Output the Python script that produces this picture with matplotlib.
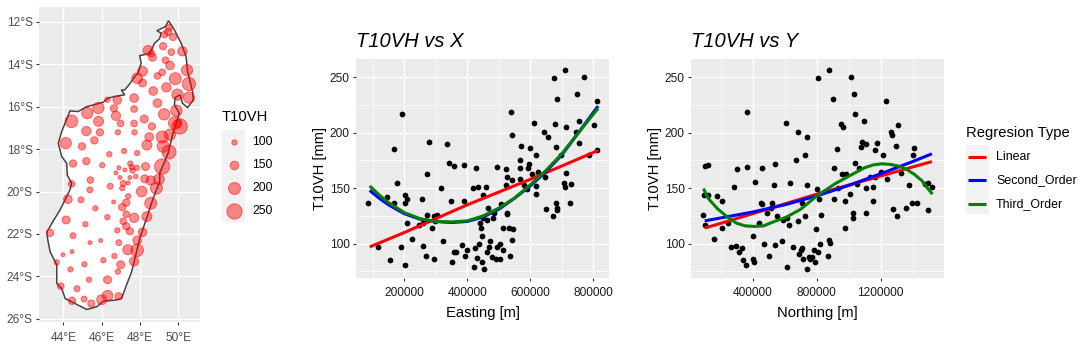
import numpy as np
import matplotlib
matplotlib.use('Agg')
import matplotlib.pyplot as plt
from matplotlib.patches import Rectangle

plt.rcParams['font.family'] = ['Liberation Sans', 'DejaVu Sans']

# coastline lon, lat
coast_lon = [49.50, 49.81, 50.16, 50.42, 50.50, 50.76, 50.80, 50.50, 50.24, 50.10, 49.84, 49.81, 50.07, 49.91,
             49.74, 49.48, 49.04, 49.04, 48.70, 48.35, 48.00, 47.74, 47.57, 47.30, 47.04, 46.70, 46.09, 45.74,
             45.22, 44.61, 44.09, 43.91, 43.65, 43.65, 43.30, 43.18, 43.13, 43.25, 43.39, 43.82, 44.08, 44.34,
             44.43, 44.20, 44.17, 43.91, 43.73, 43.91, 44.26, 44.34, 44.77, 45.21, 45.56, 46.08, 46.34, 46.68,
             47.21, 47.03, 47.21, 47.50, 47.67, 47.90, 48.07, 47.99, 48.16, 48.51, 48.65, 48.77, 49.03, 49.12,
             48.89, 49.34, 49.50]
coast_lat = [-11.95, -12.38, -13.00, -13.64, -14.34, -15.29, -15.68, -16.04, -15.84, -15.44, -15.57, -15.92, -16.31, -16.77,
             -17.24, -18.19, -19.13, -19.53, -20.31, -21.26, -22.20, -23.15, -23.78, -24.41, -25.04, -25.12, -25.17, -25.43,
             -25.56, -25.28, -25.04, -24.57, -24.33, -23.46, -22.83, -22.28, -21.89, -21.73, -21.50, -20.87, -20.40, -19.92,
             -19.61, -19.22, -18.67, -18.35, -17.72, -17.17, -16.39, -16.20, -16.23, -16.00, -15.92, -15.79, -15.60, -15.52,
             -15.44, -15.21, -15.21, -14.89, -14.66, -14.42, -13.95, -13.59, -13.56, -13.48, -13.24, -13.01, -12.80, -12.53,
             -12.42, -12.22, -11.95]

# stations on the map
st_lon = [49.53, 49.48, 49.30, 49.74, 49.22, 49.65, 50.23, 48.43, 48.61, 48.66, 49.34, 49.58, 50.47, 49.17, 48.92, 49.86,
          50.57, 48.14, 47.86, 48.14, 49.39, 48.70, 49.97, 50.57, 46.30, 46.82, 47.70, 48.92, 45.83, 45.25, 46.64, 47.70,
          49.91, 49.27, 46.75, 48.23, 44.42, 45.84, 46.99, 47.70, 48.63, 49.83, 50.09, 50.00, 45.20, 45.91, 46.85, 47.72,
          48.49, 49.17, 49.57, 45.62, 44.12, 44.97, 48.37, 49.22, 49.53, 46.40, 47.18, 47.86, 44.50, 45.20, 46.03, 46.90,
          47.22, 47.50, 47.57, 47.62, 47.84, 48.30, 49.17, 46.75, 44.43, 45.41, 45.39, 46.96, 47.48, 47.79, 48.26, 48.57,
          49.00, 48.87, 46.45, 47.13, 47.39, 47.08, 48.10, 44.23, 44.92, 46.63, 47.39, 47.29, 48.57, 47.08, 45.67, 47.29,
          47.70, 48.37, 46.30, 44.14, 47.13, 45.15, 47.29, 46.82, 47.48, 48.14, 43.30, 44.50, 47.86, 46.90, 45.95, 45.39,
          44.45, 43.98, 47.37, 47.86, 46.67, 46.09, 47.70, 45.10, 43.65, 47.00, 44.37, 46.85, 45.34, 46.31, 43.86, 44.71,
          46.89, 46.31, 46.00, 45.08, 44.45, 45.46]
st_lat = [-12.28, -12.47, -12.60, -12.71, -13.15, -13.43, -13.39, -13.35, -13.50, -13.67, -13.81, -14.06, -14.28, -14.38, -14.55, -14.68,
          -14.93, -14.33, -14.66, -14.88, -15.09, -15.26, -15.43, -15.57, -15.67, -15.69, -15.59, -15.83, -16.06, -16.30, -16.08, -16.11,
          -16.19, -16.36, -16.43, -16.58, -16.69, -16.69, -16.79, -16.79, -16.93, -16.77, -16.93, -16.80, -17.15, -17.21, -17.21, -17.21,
          -17.43, -17.43, -17.32, -17.59, -17.72, -17.87, -17.81, -17.87, -18.14, -18.24, -18.09, -18.19, -18.68, -18.57, -18.76, -18.88,
          -18.98, -18.68, -18.85, -19.01, -18.88, -18.82, -18.82, -19.12, -19.64, -19.46, -19.92, -19.34, -19.34, -19.29, -19.40, -19.48,
          -19.42, -19.84, -19.75, -19.62, -19.59, -19.84, -20.00, -20.36, -20.39, -20.49, -20.22, -20.52, -20.55, -20.74, -20.79, -21.07,
          -21.24, -21.18, -21.21, -21.34, -21.40, -21.54, -21.64, -21.83, -21.87, -21.92, -21.95, -22.08, -22.30, -22.41, -22.31, -22.41,
          -22.83, -22.98, -22.74, -22.77, -23.04, -23.24, -23.29, -23.43, -23.34, -23.45, -23.67, -23.78, -24.16, -24.16, -24.46, -24.58,
          -24.94, -24.91, -25.10, -25.07, -25.15, -25.28]
st_val = [120, 130, 120, 130, 130, 120, 160, 170, 120, 140, 120, 150, 190, 120, 120, 200,
          220, 170, 180, 140, 160, 150, 190, 190, 100, 150, 150, 150, 190, 190, 130, 120,
          190, 190, 160, 140, 210, 170, 120, 120, 130, 210, 250, 140, 160, 130, 100, 100,
          150, 200, 190, 130, 190, 130, 170, 200, 230, 100, 100, 100, 130, 130, 100, 80,
          80, 100, 100, 100, 100, 140, 250, 80, 120, 120, 110, 80, 80, 90, 140, 160,
          180, 200, 110, 110, 80, 100, 180, 150, 110, 80, 100, 130, 200, 130, 100, 120,
          160, 170, 100, 140, 120, 100, 130, 100, 130, 150, 130, 110, 150, 110, 80, 80,
          80, 80, 170, 210, 100, 100, 160, 100, 100, 140, 100, 100, 100, 140, 120, 110,
          130, 180, 170, 110, 130, 130]
size_breaks = [100, 150, 200, 250]

# T10VH vs easting
east_x = [168, 194, 279, 273, 335, 343, 359, 390, 428, 495, 524, 540, 543, 571, 600, 568, 568, 597, 594, 606, 625, 619, 613,
          644, 657, 679, 682, 698, 676, 711, 771, 686, 749, 813, 755, 746, 714, 803, 755, 787, 813, 714, 648, 527, 568, 543,
          86, 118, 146, 156, 168, 178, 190, 203, 203, 210, 203, 210, 225, 248, 260, 257, 260, 270, 273, 289, 295, 295, 305,
          298, 317, 324, 349, 352, 359, 365, 384, 390, 393, 400, 419, 435, 460, 451, 422, 425, 432, 438, 448, 454, 441, 444,
          448, 451, 463, 467, 463, 470, 473, 479, 482, 486, 492, 505, 495, 505, 514, 508, 514, 527, 527, 524, 533, 546, 543,
          536, 590, 619, 619, 651, 682, 686, 686, 673, 708, 711, 730, 727, 580, 587]
east_y = [185, 217, 192, 163, 190, 173, 170, 170.5, 168, 169, 167, 219, 198, 188, 186, 175, 168, 172, 168, 163, 165, 180, 209,
          201, 196, 208, 187, 180, 249, 257, 250, 230, 235, 229, 211, 201, 205, 207, 191, 180, 184, 164, 160.5, 160, 158, 157,
          137, 97, 142, 85.5, 137, 155, 97, 144, 137, 140, 81, 119, 104.5, 117, 119, 140, 98, 89, 126, 114, 86.5, 125, 126,
          120, 150.5, 102, 138, 83, 92, 92, 99, 138, 89, 94.5, 150.5, 151.5, 151.5, 144, 79, 96.5, 87, 100, 83, 77.5, 119, 114.5,
          107, 123.5, 121, 132.5, 92, 97, 102, 88, 123.5, 128, 86.5, 86.5, 97, 100, 94.5, 136, 114.5, 128, 127, 153, 114.5, 113.5, 103,
          89, 149, 145, 152, 131, 137, 132.5, 130, 125, 155, 151.5, 154, 137, 152.7, 150]
east_x = np.array(east_x) * 1000

# T10VH vs northing
north_x = [104, 123, 304, 367, 367, 460, 542, 417, 608, 673, 685, 742, 729, 810, 879, 1017, 904, 1035, 1235, 1042, 1098, 954, 967,
           1267, 1273, 1310, 929, 1079, 1085, 1110, 1179, 1167, 1217, 1298, 1410, 1404, 910, 1042, 1067, 960, 985, 1204, 1135, 1167, 1329, 1242,
           92, 98, 123, 104, 179, 210, 160, 210, 248, 267, 298, 335, 317, 342, 360, 285, 404, 404, 410, 442, 454, 460, 473,
           492, 504, 517, 523, 535, 542, 554, 585, 592, 617, 617, 629, 635, 654, 685, 692, 704, 710, 717, 710, 729, 742, 742,
           754, 760, 773, 785, 792, 810, 798, 804, 817, 823, 829, 873, 879, 885, 910, 935, 979, 979, 1010, 1029, 1029, 1054, 1110,
           1110, 1154, 1154, 1279, 1304, 1360, 1379, 1398, 1429, 1479, 1498, 1523, 1498]
north_y = [170, 170.5, 167, 169, 219, 168, 172, 156, 209, 175, 201, 196, 180, 249, 257, 250, 230, 235, 229, 217, 211, 208, 205,
           201, 198, 207, 185, 187, 192, 190, 191, 184, 180, 188, 186, 180, 168, 173, 168, 163, 163, 165, 160.5, 160, 164, 158,
           126, 144, 144, 117, 142.5, 138, 104.5, 114.5, 119, 97, 98, 96.5, 92, 85.5, 81, 151.5, 107, 86.5, 83, 119, 137, 136, 100,
           128, 89, 132.5, 137, 153, 99, 125, 102, 121, 79, 123.5, 117, 155, 97, 120, 91, 94, 96.5, 86.5, 137, 125, 152.5, 77.5,
           88, 86.5, 88, 94.5, 83, 92, 113.5, 149, 140, 100, 126, 89, 103, 101, 140, 150.5, 114.5, 138, 145, 128, 123.5, 154, 128,
           150.5, 138, 151.5, 131, 125, 132.5, 152.5, 137, 137, 154, 155, 151.5, 130]
north_x = np.array(north_x) * 1000

# fitted curves
e_lin_x = np.array([90, 200, 300, 400, 500, 600, 700, 815]) * 1000
e_lin_y = [97, 110, 122.5, 135, 146.5, 158, 170, 184]
e_fit_x = np.array([90, 120, 150, 200, 250, 300, 350, 400, 450, 500, 550, 600, 650, 700, 750, 815]) * 1000
e_sec_y = [148, 141, 135, 127, 122, 120, 119, 120, 124, 131, 141, 152, 165, 180, 199, 224]
e_thi_y = [152, 144, 137, 128, 122.5, 120, 119.5, 120.5, 125, 132, 141, 153, 166, 181, 199, 222]

n_lin_x = np.array([100, 400, 800, 1200, 1520]) * 1000
n_lin_y = [114, 127, 144.6, 161, 174]
n_sec_x = np.array([100, 400, 600, 800, 1000, 1200, 1400, 1520]) * 1000
n_sec_y = [120.5, 128.5, 135, 143, 152.5, 163, 174, 181]
n_thi_x = np.array([92, 123, 179, 242, 298, 354, 410, 467, 529, 612, 700, 800, 915, 1029, 1100, 1154, 1206, 1258, 1310, 1362, 1410,
                    1456, 1488, 1523]) * 1000
n_thi_y = [149.7, 140.6, 131.6, 124, 118.5, 116, 115.5, 116, 119.6, 124, 131, 143, 154, 163, 168.5, 171, 172, 171.5, 170, 167, 162.5,
           157, 151, 144.6]

reg_names = ['Linear', 'Second_Order', 'Third_Order']
reg_cols = ['red', 'blue', 'green']

W, H = 1079, 350
fig = plt.figure(figsize=(W / 100, H / 100), dpi=100)


def pix_axes(left, top, right, bottom):
    return fig.add_axes([left / W, 1 - bottom / H, (right - left) / W, (bottom - top) / H])


def bubble_s(v):
    # radius in px grows linear with value, same as the legend
    r = (8 + 0.1 * (np.asarray(v, dtype=float) - 100)) / 3
    return (2 * r * 0.72) ** 2


def style(ax):
    ax.set_facecolor('#EBEBEB')
    for s in ax.spines.values():
        s.set_visible(False)
    ax.set_axisbelow(True)
    ax.grid(True, which='major', color='white', lw=1.0)
    ax.tick_params(which='major', length=2.5, width=0.8, color='#333333', labelsize=8.6, pad=2)
    ax.tick_params(which='minor', length=0)


# map
ax0 = pix_axes(39, 7, 200, 322)
style(ax0)
ax0.fill(coast_lon, coast_lat, facecolor='white', edgecolor='#444444', lw=1.1, zorder=2)
ax0.scatter(st_lon, st_lat, s=bubble_s(st_val), facecolor=(1, 0, 0, 0.45), edgecolor=(1, 0, 0, 0.5), lw=0.7, zorder=3)
ax0.set_xlim(42.72, 51.15)
ax0.set_ylim(-26.15, -11.3)
ax0.set_xticks([44, 46, 48, 50])
ax0.set_xticklabels(['44°E', '46°E', '48°E', '50°E'])
ax0.set_yticks([-12, -14, -16, -18, -20, -22, -24, -26])
ax0.set_yticklabels(['12°S', '14°S', '16°S', '18°S', '20°S', '22°S', '24°S', '26°S'])
ax0.tick_params(labelcolor='#4D4D4D')
ax0.tick_params(axis='x', pad=5)


def scatter_panel(ax, x, y, curves, title, xlabel, xlim, xticks, xminor):
    style(ax)
    ax.set_xticks(xminor, minor=True)
    ax.set_yticks([75, 125, 175, 225], minor=True)
    ax.grid(True, which='minor', color='white', lw=0.5)
    ax.scatter(x, y, s=17, color='black', lw=0, zorder=3)
    for cx, cy, c in curves:
        ax.plot(cx, cy, color=c, lw=2.2, zorder=4, solid_capstyle='butt')
    ax.set_xlim(*xlim)
    ax.set_ylim(69, 266.5)
    ax.set_xticks(xticks)
    ax.set_xticklabels([str(t) for t in xticks])
    ax.set_yticks([100, 150, 200, 250])
    ax.tick_params(labelcolor='#1A1A1A')
    ax.tick_params(axis='x', pad=4)
    ax.set_xlabel(xlabel, fontsize=10.6, labelpad=5)
    ax.set_ylabel('T10VH [mm]', fontsize=10.6, labelpad=2)
    ax.set_title(title, fontsize=14.5, style='italic', loc='left', pad=8.5)


ax1 = pix_axes(356, 59, 609, 278)
scatter_panel(ax1, east_x, east_y,
              [(e_lin_x, e_lin_y, 'red'), (e_fit_x, e_sec_y, 'blue'), (e_fit_x, e_thi_y, 'green')],
              'T10VH vs X', 'Easting [m]', (46667, 849800),
              [200000, 400000, 600000, 800000], [100000, 300000, 500000, 700000])

ax2 = pix_axes(691, 59, 944, 278)
scatter_panel(ax2, north_x, north_y,
              [(n_lin_x, n_lin_y, 'red'), (n_sec_x, n_sec_y, 'blue'), (n_thi_x, n_thi_y, 'green')],
              'T10VH vs Y', 'Northing [m]', (14400, 1595600),
              [400000, 800000, 1200000], [200000, 600000, 1000000, 1400000])

# legends are drawn by hand in a full figure overlay, units are pixels
lg = fig.add_axes([0, 0, 1, 1], facecolor='none')
lg.set_xlim(0, W)
lg.set_ylim(H, 0)
lg.axis('off')

lg.text(222, 117, 'T10VH', fontsize=10.6, va='center', ha='left')
lg.add_patch(Rectangle((222, 130), 23, 92, facecolor='#F2F2F2', edgecolor='none'))
for v, yp in zip(size_breaks, [142, 165, 188, 211]):
    lg.scatter([233.5], [yp], s=bubble_s(v), facecolor=(1, 0, 0, 0.45), edgecolor=(1, 0, 0, 0.5), lw=0.7)
    lg.text(252, yp, str(v), fontsize=8.8, va='center', ha='left')

lg.text(966, 133, 'Regresion Type', fontsize=10.6, va='center', ha='left')
lg.add_patch(Rectangle((966, 145), 23, 69, facecolor='#F2F2F2', edgecolor='none'))
for name, c, yp in zip(reg_names, reg_cols, [157, 180, 204]):
    lg.plot([968, 986], [yp, yp], color=c, lw=2.2, solid_capstyle='butt')
    lg.text(996, yp, name, fontsize=8.9, va='center', ha='left')

fig.savefig('out.png', dpi=100)
